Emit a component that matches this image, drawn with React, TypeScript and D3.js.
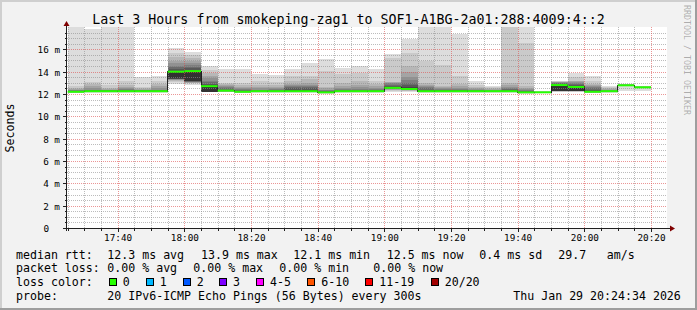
import React from 'react';
import * as d3 from 'd3';

// ---------- data ----------
const graphStart = '2026-01-29T17:24:48Z';
const graphEnd = '2026-01-29T20:24:48Z';
const firstStep = '2026-01-29T17:25:00Z';
const stepSeconds = 300;

const yTicks = [0, 2, 4, 6, 8, 10, 12, 14, 16];
const yMax = 18;

// median rtt per 5-minute step (ms)
const medians = [
  12.2, 12.25, 12.25, 12.25, 12.25, 12.25, 14.0, 14.05, 12.7, 12.3,
  12.2, 12.25, 12.25, 12.25, 12.25, 12.15, 12.25, 12.25, 12.25, 12.55,
  12.45, 12.25, 12.25, 12.25, 12.25, 12.25, 12.25, 12.15, 12.15, 12.8,
  12.63, 12.2, 12.25, 12.78, 12.6,
];

// 20 sorted ping rtts per step (ms)
const pings = [
  [12.05,12.10,12.12,12.15,12.15,12.17,12.18,12.18,12.19,12.19,12.20,12.25,12.28,12.30,12.35,12.40,12.45,12.55,12.70,19.50],
  [12.10,12.15,12.18,12.20,12.20,12.22,12.22,12.23,12.24,12.24,12.25,12.28,12.30,12.35,12.40,12.50,12.70,12.90,13.10,17.80],
  [12.10,12.15,12.18,12.20,12.20,12.22,12.22,12.23,12.24,12.24,12.25,12.28,12.30,12.33,12.36,12.40,12.45,12.55,12.80,19.50],
  [12.10,12.15,12.18,12.20,12.20,12.22,12.22,12.23,12.24,12.24,12.25,12.28,12.30,12.35,12.45,12.55,12.65,12.80,13.20,19.50],
  [12.10,12.15,12.18,12.20,12.20,12.22,12.22,12.23,12.24,12.24,12.25,12.27,12.30,12.33,12.36,12.40,12.45,12.50,12.60,13.50],
  [12.10,12.15,12.18,12.20,12.20,12.22,12.22,12.23,12.24,12.24,12.25,12.28,12.30,12.35,12.40,12.50,12.70,12.90,13.20,13.60],
  [12.90,13.10,13.20,13.25,13.28,13.30,13.32,13.34,13.36,13.40,14.00,14.10,14.25,14.40,14.55,14.75,15.00,15.30,15.70,16.10],
  [12.85,12.95,13.00,13.02,13.05,13.08,13.10,13.12,13.15,13.20,14.05,14.15,14.30,14.45,14.60,14.80,15.00,15.20,15.50,15.80],
  [12.15,12.17,12.18,12.19,12.20,12.20,12.21,12.21,12.22,12.22,12.70,12.80,12.90,13.05,13.20,13.40,13.60,13.85,14.15,14.50],
  [12.15,12.18,12.20,12.22,12.24,12.25,12.26,12.27,12.28,12.29,12.30,12.35,12.40,12.50,12.60,12.70,12.80,12.90,13.00,14.20],
  [12.05,12.10,12.12,12.15,12.15,12.17,12.18,12.18,12.19,12.19,12.20,12.25,12.30,12.35,12.45,12.55,12.65,12.80,13.00,14.20],
  [12.10,12.15,12.18,12.20,12.20,12.22,12.22,12.23,12.24,12.24,12.25,12.28,12.30,12.35,12.40,12.50,12.60,12.80,13.20,13.80],
  [12.10,12.15,12.18,12.20,12.20,12.22,12.22,12.23,12.24,12.24,12.25,12.28,12.30,12.35,12.45,12.55,12.65,12.85,13.10,13.70],
  [12.10,12.15,12.18,12.20,12.20,12.22,12.22,12.23,12.24,12.24,12.25,12.40,12.50,12.60,12.70,12.80,12.90,13.20,13.60,14.20],
  [12.10,12.15,12.18,12.20,12.20,12.22,12.22,12.23,12.24,12.24,12.25,12.40,12.50,12.60,12.70,12.80,13.00,13.30,13.60,14.75],
  [12.00,12.05,12.08,12.10,12.10,12.12,12.12,12.13,12.14,12.14,12.15,12.20,12.25,12.30,12.35,12.40,12.50,12.65,14.05,15.10],
  [12.10,12.15,12.18,12.20,12.20,12.22,12.22,12.23,12.24,12.24,12.25,12.28,12.30,12.35,12.45,12.55,12.70,13.00,13.80,14.30],
  [12.10,12.15,12.18,12.20,12.20,12.22,12.22,12.23,12.24,12.24,12.25,12.28,12.30,12.35,12.45,12.60,12.80,13.20,13.90,14.50],
  [12.10,12.15,12.18,12.20,12.20,12.22,12.22,12.23,12.24,12.24,12.25,12.28,12.30,12.35,12.45,12.55,12.70,12.90,13.20,14.20],
  [12.20,12.28,12.35,12.40,12.44,12.47,12.49,12.51,12.52,12.53,12.55,12.65,12.75,12.85,12.95,13.00,13.05,13.10,15.20,15.60],
  [12.20,12.25,12.30,12.33,12.36,12.38,12.40,12.42,12.43,12.44,12.45,12.60,12.80,13.00,13.25,13.50,14.00,14.50,15.70,16.90],
  [12.10,12.15,12.18,12.20,12.20,12.22,12.22,12.23,12.24,12.24,12.25,12.30,12.40,12.50,12.60,12.70,12.85,13.00,15.00,20.00],
  [12.10,12.15,12.18,12.20,12.20,12.22,12.22,12.23,12.24,12.24,12.25,12.28,12.32,12.38,12.45,12.52,12.60,12.70,14.60,20.00],
  [12.10,12.15,12.18,12.20,12.20,12.22,12.22,12.23,12.24,12.24,12.25,12.28,12.32,12.38,12.45,12.55,12.70,12.90,13.60,17.40],
  [12.10,12.15,12.18,12.20,12.20,12.22,12.22,12.23,12.24,12.24,12.25,12.27,12.30,12.33,12.37,12.42,12.50,12.65,12.80,13.20],
  [12.10,12.15,12.18,12.20,12.20,12.22,12.22,12.23,12.24,12.24,12.25,12.27,12.29,12.31,12.34,12.38,12.43,12.50,12.60,12.70],
  [12.10,12.15,12.18,12.20,12.20,12.22,12.22,12.23,12.24,12.24,12.25,12.30,12.38,12.45,12.55,12.65,12.80,13.00,19.00,20.00],
  [12.00,12.05,12.08,12.10,12.10,12.12,12.12,12.13,12.14,12.14,12.15,12.20,12.25,12.30,12.38,12.45,12.55,12.70,16.60,20.00],
  [12.05,12.08,12.10,12.11,12.12,12.12,12.13,12.13,12.14,12.14,12.15,12.16,12.17,12.18,12.19,12.20,12.21,12.22,12.23,12.25],
  [12.20,12.22,12.23,12.24,12.25,12.25,12.26,12.26,12.27,12.27,12.80,12.85,12.90,12.95,13.00,13.05,13.08,13.10,13.12,13.17],
  [12.20,12.22,12.23,12.24,12.25,12.25,12.26,12.26,12.27,12.27,12.63,12.70,12.80,12.90,13.00,13.10,13.15,13.20,13.50,13.86],
  [12.05,12.10,12.12,12.15,12.15,12.17,12.18,12.18,12.19,12.19,12.20,12.30,12.40,12.50,12.60,12.70,12.80,12.90,13.20,13.60],
  [12.10,12.15,12.18,12.20,12.20,12.22,12.22,12.23,12.24,12.24,12.25,12.27,12.29,12.31,12.34,12.38,12.43,12.50,12.60,12.70],
  [12.27,12.70,12.72,12.73,12.74,12.75,12.76,12.76,12.77,12.77,12.78,12.80,12.82,12.83,12.84,12.85,12.86,12.87,12.88,12.90],
  [12.30,12.55,12.56,12.57,12.58,12.58,12.59,12.59,12.60,12.60,12.60,12.62,12.63,12.64,12.65,12.66,12.67,12.68,12.69,12.72],
];

const title = 'Last 3 Hours from smokeping-zag1 to SOF1-A1BG-2a01:288:4009:4::2';
const yAxisTitle = 'Seconds';
const watermark = 'RRDTOOL / TOBI OETIKER';

const rttLabel = 'median rtt:';
const rttStats = ['12.3 ms avg', '13.9 ms max', '12.1 ms min', '12.5 ms now', '0.4 ms sd', '29.7', 'am/s'];
const lossLabel = 'packet loss:';
const lossStats = ['0.00 % avg', '0.00 % max', '0.00 % min', '0.00 % now'];
const lossColorLabel = 'loss color:';
const lossColorNames = ['0', '1', '2', '3', '4-5', '6-10', '11-19', '20/20'];
const lossColors = ['#26ff00', '#00b8ff', '#0059ff', '#7e00ff', '#ff00ff', '#ff5500', '#ff0000', '#a10000'];
const probeLabel = 'probe:';
const probeText = '20 IPv6-ICMP Echo Pings (56 Bytes) every 300s';
const dateText = 'Thu Jan 29 20:24:34 2026';

// ---------- layout ----------
const W = 697;
const H = 310;
const PL = 67, PR = 667, PT = 27, PB = 228;
const MONO = '"DejaVu Sans Mono", "Liberation Mono", monospace';
const rttX = [107.3, 201, 293.3, 386.7, 479.3, 558.3, 606.7];
const lossX = [107.3, 193.3, 279.3, 373.3];
const swatchX = [108.7, 145.7, 182.7, 219, 256, 307.3, 365.3, 430.7];
const rowY = [258.5, 272.2, 285.9, 299.6];

export default function App() {
  const x = d3.scaleUtc().domain([new Date(graphStart), new Date(graphEnd)]).range([PL, PR]);
  const y = d3.scaleLinear().domain([0, yMax]).range([PB, PT]);
  const t0 = new Date(firstStep).getTime();
  const stepMs = stepSeconds * 1000;
  const barStart = (i: number) => new Date(t0 + i * stepMs);
  const barEnd = (i: number) => new Date(t0 + (i + 1) * stepMs);

  const half = 10;
  const smokeColor = (ibot: number) => {
    const c = Math.floor((190 / half) * (half - ibot)) + 50;
    const h = c.toString(16).padStart(2, '0');
    return `#${h}${h}${h}`;
  };

  const minorTimes = d3.utcMinute.every(5)!.range(new Date(graphStart), new Date(graphEnd));
  const majorTimes = d3.utcMinute.every(20)!.range(new Date(graphStart), new Date(graphEnd));
  const fmt = d3.utcFormat('%H:%M');
  const minorVals = d3.range(0.5, yMax + 0.01, 0.5).filter((v) => v % 2 !== 0);

  const px = (v: number) => Math.round(v) + 0.5;

  const medPts: [number, number][] = medians.map((m, i) => [x(barStart(i)), y(m)]);
  medPts.push([x(barEnd(medians.length - 1)), y(medians[medians.length - 1])]);
  const stepLine = d3.line().curve(d3.curveStepAfter)(medPts) || '';

  return (
    <svg width={W} height={H} style={{ position: 'absolute', left: 0, top: 0 }} fontFamily={MONO}>
      <defs>
        <clipPath id="plotclip">
          <rect x={PL} y={PT} width={PR - PL} height={PB - PT} />
        </clipPath>
      </defs>
      {/* background + 3D frame */}
      <rect x={0} y={0} width={W} height={H} fill="#f2f2f2" />
      <path d={`M0,0 H${W} V2 H2 V${H} H0 Z`} fill="#cfcfcf" />
      <path d={`M${W},${H} H0 V${H - 2} H${W - 2} V0 H${W} Z`} fill="#9e9e9e" />
      <rect x={PL} y={PT} width={PR - PL} height={PB - PT} fill="#ffffff" />

      {/* smoke */}
      <g clipPath="url(#plotclip)" shapeRendering="crispEdges">
        {pings.map((p, i) => {
          const x0 = Math.round(x(barStart(i)));
          const x1 = Math.round(x(barEnd(i)));
          return (
            <g key={i}>
              {d3.range(1, half + 1).map((ibot) => {
                const lo = p[ibot - 1];
                const hi = p[p.length - ibot];
                const yt = y(Math.min(hi, yMax + 1));
                const yb = y(lo);
                return (
                  <rect key={ibot} x={x0} width={x1 - x0} y={yt} height={Math.max(0, yb - yt)} fill={smokeColor(ibot)} />
                );
              })}
            </g>
          );
        })}
      </g>

      {/* grid */}
      <g shapeRendering="crispEdges" strokeDasharray="1,1" strokeWidth={1}>
        {minorVals.map((v) => (
          <line key={'hm' + v} x1={PL} x2={PR} y1={px(y(v))} y2={px(y(v))} stroke="#8f8f8f" strokeOpacity={0.6} />
        ))}
        {minorTimes.filter((t) => t.getUTCMinutes() % 20 !== 0).map((t) => (
          <line key={'vm' + t.getTime()} x1={px(x(t))} x2={px(x(t))} y1={PT} y2={PB} stroke="#8f8f8f" strokeOpacity={0.6} />
        ))}
        {yTicks.filter((v) => v > 0).map((v) => (
          <line key={'hM' + v} x1={PL} x2={PR} y1={px(y(v))} y2={px(y(v))} stroke="#de5050" strokeOpacity={0.6} />
        ))}
        {majorTimes.map((t) => (
          <line key={'vM' + t.getTime()} x1={px(x(t))} x2={px(x(t))} y1={PT} y2={PB} stroke="#de5050" strokeOpacity={0.6} />
        ))}
      </g>

      {/* median */}
      <g clipPath="url(#plotclip)">
        <path d={stepLine} fill="none" stroke="#202020" strokeWidth={1} shapeRendering="crispEdges" />
        {medians.map((m, i) => (
          <line key={i} x1={x(barStart(i))} x2={x(barEnd(i))} y1={y(m)} y2={y(m)} stroke={lossColors[0]} strokeWidth={2} />
        ))}
      </g>

      {/* axes */}
      <g shapeRendering="crispEdges" stroke="#202020">
        <line x1={PL - 0.5} x2={PL - 0.5} y1={PB + 3} y2={PT - 2} />
        <line x1={PL - 3} x2={PR + 4} y1={PB + 0.5} y2={PB + 0.5} />
        {yTicks.map((v) => (
          <line key={'yt' + v} x1={PL - 4} x2={PL - 0.5} y1={px(y(v))} y2={px(y(v))} />
        ))}
        {minorVals.map((v) => (
          <line key={'ytm' + v} x1={PL - 2} x2={PL - 0.5} y1={px(y(v))} y2={px(y(v))} />
        ))}
        {minorTimes.map((t) => (
          <line key={'xt' + t.getTime()} x1={px(x(t))} x2={px(x(t))} y1={PB} y2={PB + (t.getUTCMinutes() % 20 === 0 ? 4 : 2.5)} />
        ))}
      </g>
      <path d={`M${PL - 0.5},${PT - 6} L${PL - 3.5},${PT - 1} L${PL + 2.5},${PT - 1} Z`} fill="#800000" />
      <path d={`M${PR + 8},${PB + 0.5} L${PR + 3},${PB - 2.5} L${PR + 3},${PB + 3.5} Z`} fill="#800000" />

      {/* axis labels */}
      <g fontSize={9.33} fill="#000">
        {yTicks.map((v) => (
          <text key={'yl' + v} x={v === 0 ? 49 : 60} y={px(y(v)) + 3} textAnchor="end">
            {v === 0 ? '0' : `${v} m`}
          </text>
        ))}
        {majorTimes.map((t) => (
          <text key={'xl' + t.getTime()} x={x(t) + 0.5} y={241} textAnchor="middle">
            {fmt(t)}
          </text>
        ))}
      </g>

      {/* title */}
      <text x={W / 2} y={24} textAnchor="middle" fontSize={13.3} fill="#000">{title}</text>
      <text transform={`translate(10,128) rotate(-90)`} textAnchor="middle" dominantBaseline="central" fontSize={11.6}>
        {yAxisTitle}
      </text>
      <text transform={`translate(686.5,5) rotate(90)`} textAnchor="start" dominantBaseline="central" fontSize={8.3} fill="#000" fillOpacity={0.3}>
        {watermark}
      </text>

      {/* legend */}
      <g fontSize={11.6} fill="#000">
        <text x={16} y={rowY[0]}>{rttLabel}</text>
        {rttStats.map((s, i) => (
          <text key={'r' + i} x={rttX[i]} y={rowY[0]}>{s}</text>
        ))}
        <text x={16} y={rowY[1]}>{lossLabel}</text>
        {lossStats.map((s, i) => (
          <text key={'l' + i} x={lossX[i]} y={rowY[1]}>{s}</text>
        ))}
        <text x={16} y={rowY[2]}>{lossColorLabel}</text>
        {lossColorNames.map((n, i) => (
          <g key={'c' + i}>
            <rect x={swatchX[i] + 0.5} y={278.5} width={7} height={7} fill={lossColors[i]} stroke="#000" strokeWidth={1} shapeRendering="crispEdges" />
            <text x={swatchX[i] + 14} y={rowY[2]}>{n}</text>
          </g>
        ))}
        <text x={16} y={rowY[3]}>{probeLabel}</text>
        <text x={107.3} y={rowY[3]}>{probeText}</text>
        <text x={513.3} y={rowY[3]}>{dateText}</text>
      </g>
    </svg>
  );
}
